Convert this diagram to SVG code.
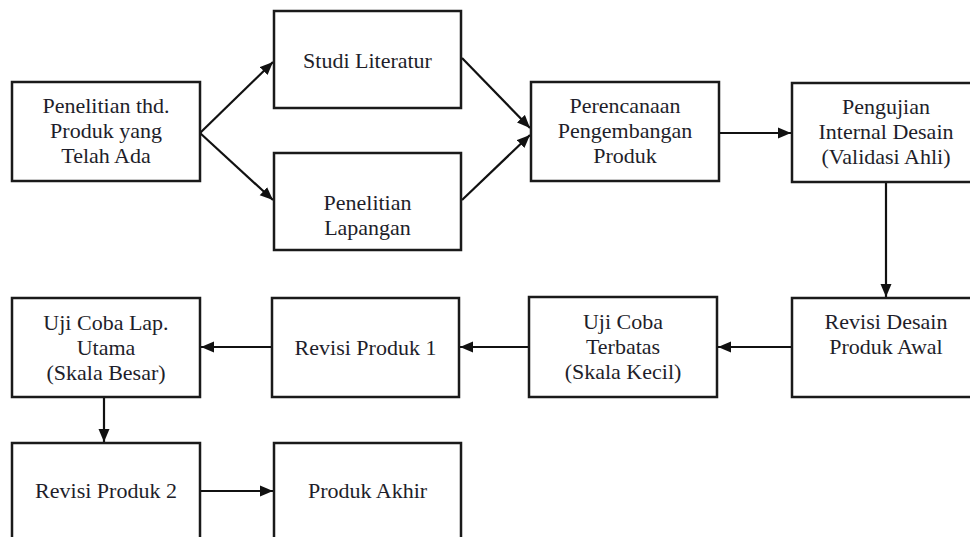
<svg xmlns="http://www.w3.org/2000/svg" width="970" height="537" viewBox="0 0 970 537">
<style>
.box{fill:#fff;stroke:#1a1a1a;stroke-width:2.5}
.lbl{font-family:'Liberation Serif','Times New Roman',serif;font-size:22px;fill:#1e1e2a;text-anchor:middle}
.con{stroke:#111;stroke-width:2.2;fill:none}
</style>
<defs>
<marker id="ah" markerUnits="userSpaceOnUse" markerWidth="14" markerHeight="12" refX="13" refY="6" orient="auto">
<path d="M0,0.5 L13,6 L0,11.5 z" fill="#111"/>
</marker>
</defs>
<rect width="970" height="537" fill="#fff"/>
<g id="connectors">
<line class="con" x1="200" y1="133" x2="273" y2="62" marker-end="url(#ah)"/>
<line class="con" x1="200" y1="133" x2="273" y2="200" marker-end="url(#ah)"/>
<line class="con" x1="462" y1="58" x2="530" y2="128" marker-end="url(#ah)"/>
<line class="con" x1="462" y1="200" x2="530" y2="135" marker-end="url(#ah)"/>
<line class="con" x1="719" y1="133" x2="791" y2="133" marker-end="url(#ah)"/>
<line class="con" x1="886" y1="182" x2="886" y2="297" marker-end="url(#ah)"/>
<line class="con" x1="792" y1="347" x2="718" y2="347" marker-end="url(#ah)"/>
<line class="con" x1="529" y1="347" x2="460" y2="347" marker-end="url(#ah)"/>
<line class="con" x1="272" y1="347" x2="201" y2="347" marker-end="url(#ah)"/>
<line class="con" x1="104" y1="397" x2="104" y2="442" marker-end="url(#ah)"/>
<line class="con" x1="200" y1="491" x2="273" y2="491" marker-end="url(#ah)"/>
</g>
<g id="n1"><rect class="box" x="12" y="82" width="188" height="99"/>
<text class="lbl" x="106" y="113">Penelitian thd.</text><text class="lbl" x="106" y="138">Produk yang</text><text class="lbl" x="106" y="163">Telah Ada</text></g>
<g id="n2"><rect class="box" x="274" y="11" width="187" height="97"/>
<text class="lbl" x="367.5" y="68">Studi Literatur</text></g>
<g id="n3"><rect class="box" x="274" y="153" width="187" height="97"/>
<text class="lbl" x="367.5" y="210">Penelitian</text><text class="lbl" x="367.5" y="235">Lapangan</text></g>
<g id="n4"><rect class="box" x="531" y="82" width="188" height="99"/>
<text class="lbl" x="625" y="113">Perencanaan</text><text class="lbl" x="625" y="138">Pengembangan</text><text class="lbl" x="625" y="163">Produk</text></g>
<g id="n5"><rect class="box" x="792" y="83" width="188" height="99"/>
<text class="lbl" x="886" y="114">Pengujian</text><text class="lbl" x="886" y="139">Internal Desain</text><text class="lbl" x="886" y="164">(Validasi Ahli)</text></g>
<g id="n6"><rect class="box" x="792" y="298" width="188" height="99"/>
<text class="lbl" x="886" y="329">Revisi Desain</text><text class="lbl" x="886" y="354">Produk Awal</text></g>
<g id="n7"><rect class="box" x="529" y="297" width="188" height="100"/>
<text class="lbl" x="623" y="329">Uji Coba</text><text class="lbl" x="623" y="354">Terbatas</text><text class="lbl" x="623" y="379">(Skala Kecil)</text></g>
<g id="n8"><rect class="box" x="272" y="298" width="187" height="99"/>
<text class="lbl" x="365.5" y="355">Revisi Produk 1</text></g>
<g id="n9"><rect class="box" x="12" y="298" width="188" height="99"/>
<text class="lbl" x="106" y="330">Uji Coba Lap.</text><text class="lbl" x="106" y="355">Utama</text><text class="lbl" x="106" y="380">(Skala Besar)</text></g>
<g id="n10"><rect class="box" x="12" y="443" width="188" height="110"/>
<text class="lbl" x="106" y="498">Revisi Produk 2</text></g>
<g id="n11"><rect class="box" x="274" y="443" width="187" height="110"/>
<text class="lbl" x="367.5" y="498">Produk Akhir</text></g>
</svg>
